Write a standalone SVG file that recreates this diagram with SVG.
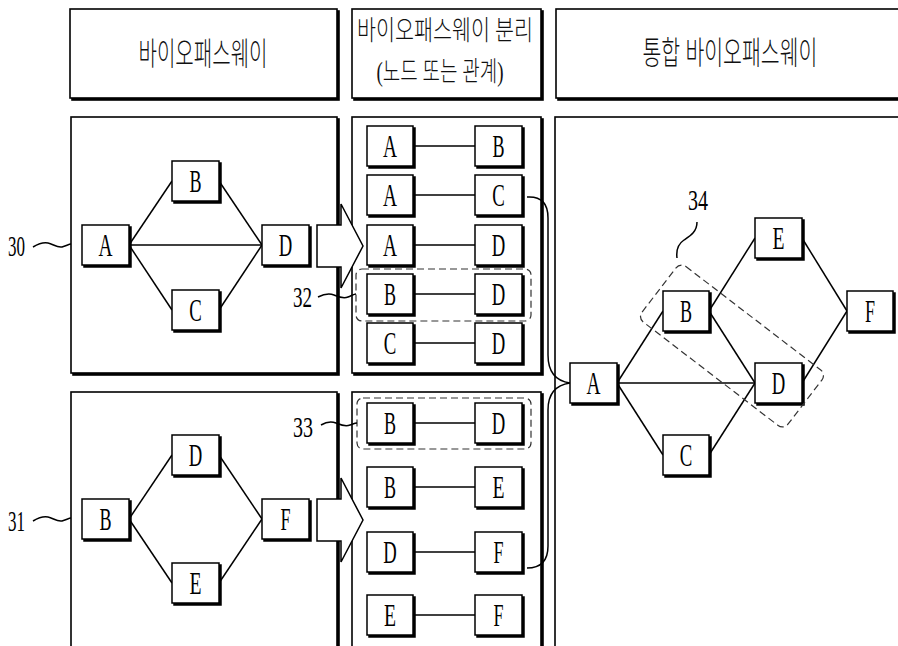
<svg xmlns="http://www.w3.org/2000/svg" width="898" height="646" viewBox="0 0 898 646">
  <defs>
    <!-- hard offset shadow that gives every box its heavy right/bottom edge -->
    <filter id="edge" x="-5%" y="-5%" width="115%" height="115%">
      <feOffset in="SourceAlpha" dx="2" dy="2" result="off"/>
      <feMerge>
        <feMergeNode in="off"/>
        <feMergeNode in="SourceGraphic"/>
      </feMerge>
    </filter>
    <style>
      .bx { fill:#fff; stroke:#000; stroke-width:1.5; filter:url(#edge); }
      .pn { fill:#fff; stroke:#000; stroke-width:1.6; filter:url(#edge); }
      .ln { fill:none; stroke:#000; stroke-width:1.5; }
      .arw { fill:#fff; stroke:#000; stroke-width:1.5; stroke-linejoin:miter; }
      .dash { fill:none; stroke:#333; stroke-width:1.2; stroke-dasharray:7 4; }
      .lt { font-family:"Liberation Serif", serif; font-size:32px; text-anchor:middle; fill:#000; }
      .num { font-family:"Liberation Serif", serif; font-size:30px; text-anchor:middle; fill:#000; }
      .ko { font-family:"Liberation Serif", "Noto Sans CJK KR", serif; font-weight:300; text-anchor:middle; dominant-baseline:central; fill:#111; }
    </style>
  </defs>

  <rect width="898" height="646" fill="#fff"/>

  <!-- column headers -->
  <g id="header-pathway">
    <rect class="pn" x="70" y="9" width="267" height="89"/>
    <text class="ko" x="203" y="54" font-size="32" textLength="129" lengthAdjust="spacingAndGlyphs">바이오패스웨이</text>
  </g>
  <g id="header-split">
    <rect class="pn" x="352" y="9" width="189" height="89"/>
    <text class="ko" x="445" y="31" font-size="27" textLength="176" lengthAdjust="spacingAndGlyphs">바이오패스웨이 분리</text>
    <text class="ko" x="440" y="72" font-size="27" textLength="127" lengthAdjust="spacingAndGlyphs">(노드 또는 관계)</text>
  </g>
  <g id="header-merged">
    <rect class="pn" x="556" y="9" width="360" height="89"/>
    <text class="ko" x="730" y="53" font-size="32" textLength="175" lengthAdjust="spacingAndGlyphs">통합 바이오패스웨이</text>
  </g>

  <!-- panels -->
  <g id="panels">
    <rect class="pn" x="71" y="117" width="266" height="256"/>
    <rect class="pn" x="71" y="392" width="266" height="270"/>
    <rect class="pn" x="352" y="117" width="189" height="256"/>
    <rect class="pn" x="352" y="392" width="189" height="270"/>
    <rect class="pn" x="555" y="117" width="360" height="545"/>
  </g>

  <!-- hollow block arrows from each pathway to its split list -->
  <g id="arrows">
    <polygon class="arw" points="317,225 341,225 341,204 363,246 341,288 341,267 317,267"/>
    <polygon class="arw" points="317,499 341,499 341,478 363,520 341,562 341,541 317,541"/>
  </g>

  <!-- connectors -->
  <g id="connectors">
    <!-- pathway 30 -->
    <line class="ln" x1="129" y1="245" x2="172" y2="181"/>
    <line class="ln" x1="129" y1="245" x2="262" y2="245"/>
    <line class="ln" x1="129" y1="245" x2="172" y2="310"/>
    <line class="ln" x1="219" y1="181" x2="262" y2="245"/>
    <line class="ln" x1="219" y1="310" x2="262" y2="245"/>
    <!-- pathway 31 -->
    <line class="ln" x1="129" y1="519" x2="172" y2="455"/>
    <line class="ln" x1="129" y1="519" x2="172" y2="583"/>
    <line class="ln" x1="219" y1="455" x2="262" y2="519"/>
    <line class="ln" x1="219" y1="583" x2="262" y2="519"/>
    <!-- split relations -->
    <line class="ln" x1="413" y1="146" x2="475" y2="146"/>
    <line class="ln" x1="413" y1="195" x2="475" y2="195"/>
    <line class="ln" x1="413" y1="245" x2="475" y2="245"/>
    <line class="ln" x1="413" y1="294" x2="475" y2="294"/>
    <line class="ln" x1="413" y1="343" x2="475" y2="343"/>
    <line class="ln" x1="413" y1="423" x2="475" y2="423"/>
    <line class="ln" x1="413" y1="487" x2="475" y2="487"/>
    <line class="ln" x1="413" y1="552" x2="475" y2="552"/>
    <line class="ln" x1="413" y1="615" x2="475" y2="615"/>
    <!-- brace joining the split lists into the merged pathway -->
    <path class="ln" d="M527,197 C542,196 548,204 548,218 V355 C548,372 556,381 570,383"/>
    <path class="ln" d="M527,568 C542,568 548,560 548,546 V410 C548,394 556,385 570,383"/>
    <!-- merged pathway -->
    <line class="ln" x1="617" y1="383" x2="663" y2="311"/>
    <line class="ln" x1="617" y1="383" x2="755" y2="383"/>
    <line class="ln" x1="617" y1="383" x2="663" y2="455"/>
    <line class="ln" x1="709" y1="311" x2="755" y2="238"/>
    <line class="ln" x1="709" y1="311" x2="755" y2="383"/>
    <line class="ln" x1="709" y1="455" x2="755" y2="383"/>
    <line class="ln" x1="802" y1="238" x2="847" y2="311"/>
    <line class="ln" x1="802" y1="383" x2="847" y2="311"/>
  </g>

  <!-- pathway 30 nodes -->
  <g id="p30-A"><rect class="bx" x="82" y="225" width="47" height="40"/><text class="lt" x="105.5" y="256" textLength="14" lengthAdjust="spacingAndGlyphs">A</text></g>
  <g id="p30-B"><rect class="bx" x="172" y="161" width="47" height="40"/><text class="lt" x="195.5" y="192" textLength="12" lengthAdjust="spacingAndGlyphs">B</text></g>
  <g id="p30-C"><rect class="bx" x="172" y="290" width="47" height="40"/><text class="lt" x="195.5" y="321" textLength="12.5" lengthAdjust="spacingAndGlyphs">C</text></g>
  <g id="p30-D"><rect class="bx" x="262" y="225" width="47" height="40"/><text class="lt" x="285.5" y="256" textLength="13.5" lengthAdjust="spacingAndGlyphs">D</text></g>

  <!-- pathway 31 nodes -->
  <g id="p31-B"><rect class="bx" x="82" y="499" width="47" height="40"/><text class="lt" x="105.5" y="530" textLength="12" lengthAdjust="spacingAndGlyphs">B</text></g>
  <g id="p31-D"><rect class="bx" x="172" y="435" width="47" height="40"/><text class="lt" x="195.5" y="466" textLength="13.5" lengthAdjust="spacingAndGlyphs">D</text></g>
  <g id="p31-E"><rect class="bx" x="172" y="563" width="47" height="40"/><text class="lt" x="195.5" y="594" textLength="12" lengthAdjust="spacingAndGlyphs">E</text></g>
  <g id="p31-F"><rect class="bx" x="262" y="499" width="47" height="40"/><text class="lt" x="285.5" y="530" textLength="10" lengthAdjust="spacingAndGlyphs">F</text></g>

  <!-- split relations from pathway 30 -->
  <g id="s1-A"><rect class="bx" x="367" y="126" width="46" height="40"/><text class="lt" x="390" y="157" textLength="14" lengthAdjust="spacingAndGlyphs">A</text></g>
  <g id="s1-B"><rect class="bx" x="475" y="126" width="47" height="40"/><text class="lt" x="498.5" y="157" textLength="12" lengthAdjust="spacingAndGlyphs">B</text></g>
  <g id="s2-A"><rect class="bx" x="367" y="175" width="46" height="40"/><text class="lt" x="390" y="206" textLength="14" lengthAdjust="spacingAndGlyphs">A</text></g>
  <g id="s2-C"><rect class="bx" x="475" y="175" width="47" height="40"/><text class="lt" x="498.5" y="206" textLength="12.5" lengthAdjust="spacingAndGlyphs">C</text></g>
  <g id="s3-A"><rect class="bx" x="367" y="225" width="46" height="40"/><text class="lt" x="390" y="256" textLength="14" lengthAdjust="spacingAndGlyphs">A</text></g>
  <g id="s3-D"><rect class="bx" x="475" y="225" width="47" height="40"/><text class="lt" x="498.5" y="256" textLength="13.5" lengthAdjust="spacingAndGlyphs">D</text></g>
  <g id="s4-B"><rect class="bx" x="367" y="274" width="46" height="40"/><text class="lt" x="390" y="305" textLength="12" lengthAdjust="spacingAndGlyphs">B</text></g>
  <g id="s4-D"><rect class="bx" x="475" y="274" width="47" height="40"/><text class="lt" x="498.5" y="305" textLength="13.5" lengthAdjust="spacingAndGlyphs">D</text></g>
  <g id="s5-C"><rect class="bx" x="367" y="323" width="46" height="40"/><text class="lt" x="390" y="354" textLength="12.5" lengthAdjust="spacingAndGlyphs">C</text></g>
  <g id="s5-D"><rect class="bx" x="475" y="323" width="47" height="40"/><text class="lt" x="498.5" y="354" textLength="13.5" lengthAdjust="spacingAndGlyphs">D</text></g>

  <!-- split relations from pathway 31 -->
  <g id="s6-B"><rect class="bx" x="367" y="403" width="46" height="40"/><text class="lt" x="390" y="434" textLength="12" lengthAdjust="spacingAndGlyphs">B</text></g>
  <g id="s6-D"><rect class="bx" x="475" y="403" width="47" height="40"/><text class="lt" x="498.5" y="434" textLength="13.5" lengthAdjust="spacingAndGlyphs">D</text></g>
  <g id="s7-B"><rect class="bx" x="367" y="467" width="46" height="40"/><text class="lt" x="390" y="498" textLength="12" lengthAdjust="spacingAndGlyphs">B</text></g>
  <g id="s7-E"><rect class="bx" x="475" y="467" width="47" height="40"/><text class="lt" x="498.5" y="498" textLength="12" lengthAdjust="spacingAndGlyphs">E</text></g>
  <g id="s8-D"><rect class="bx" x="367" y="532" width="46" height="40"/><text class="lt" x="390" y="563" textLength="13.5" lengthAdjust="spacingAndGlyphs">D</text></g>
  <g id="s8-F"><rect class="bx" x="475" y="532" width="47" height="40"/><text class="lt" x="498.5" y="563" textLength="10" lengthAdjust="spacingAndGlyphs">F</text></g>
  <g id="s9-E"><rect class="bx" x="367" y="595" width="46" height="40"/><text class="lt" x="390" y="626" textLength="12" lengthAdjust="spacingAndGlyphs">E</text></g>
  <g id="s9-F"><rect class="bx" x="475" y="595" width="47" height="40"/><text class="lt" x="498.5" y="626" textLength="10" lengthAdjust="spacingAndGlyphs">F</text></g>

  <!-- merged pathway nodes -->
  <g id="m-A"><rect class="bx" x="570" y="363" width="47" height="40"/><text class="lt" x="593.5" y="394" textLength="14" lengthAdjust="spacingAndGlyphs">A</text></g>
  <g id="m-B"><rect class="bx" x="663" y="291" width="46" height="40"/><text class="lt" x="686" y="322" textLength="12" lengthAdjust="spacingAndGlyphs">B</text></g>
  <g id="m-C"><rect class="bx" x="663" y="435" width="46" height="40"/><text class="lt" x="686" y="466" textLength="12.5" lengthAdjust="spacingAndGlyphs">C</text></g>
  <g id="m-D"><rect class="bx" x="755" y="363" width="47" height="40"/><text class="lt" x="778.5" y="394" textLength="13.5" lengthAdjust="spacingAndGlyphs">D</text></g>
  <g id="m-E"><rect class="bx" x="755" y="218" width="47" height="40"/><text class="lt" x="778.5" y="249" textLength="12" lengthAdjust="spacingAndGlyphs">E</text></g>
  <g id="m-F"><rect class="bx" x="847" y="291" width="46" height="40"/><text class="lt" x="870" y="322" textLength="10" lengthAdjust="spacingAndGlyphs">F</text></g>

  <!-- shared-relation highlights -->
  <g id="group-32"><rect class="dash" x="356" y="269" width="175" height="52" rx="6"/></g>
  <g id="group-33"><rect class="dash" x="357" y="398" width="174" height="51" rx="6"/></g>
  <g id="group-34"><rect class="dash" x="-92" y="-35" width="184" height="70" rx="7" transform="translate(732,346) rotate(37.5)"/></g>

  <!-- reference numerals and leaders -->
  <g id="labels">
    <text class="num" x="16.5" y="256" textLength="17" lengthAdjust="spacingAndGlyphs">30</text>
    <path class="ln" d="M33,247 C38,244 43,242 48,243 C53,244 57,248 62,247 C66,246 69,244 71,244"/>
    <text class="num" x="16.5" y="531" textLength="17" lengthAdjust="spacingAndGlyphs">31</text>
    <path class="ln" d="M33,521 C38,518 43,516 48,517 C53,518 57,522 62,521 C66,520 69,518 71,518"/>
    <text class="num" x="302.5" y="307" textLength="19" lengthAdjust="spacingAndGlyphs">32</text>
    <path class="ln" d="M318,297 C324,294 329,293 334,295 C339,297 343,299 348,297 C351,296 354,294 356,294"/>
    <text class="num" x="303" y="437" textLength="20" lengthAdjust="spacingAndGlyphs">33</text>
    <path class="ln" d="M321,425 C326,422 331,421 336,423 C341,425 345,427 350,425 C353,424 355,423 357,423"/>
    <text class="num" x="698" y="210" textLength="20" lengthAdjust="spacingAndGlyphs">34</text>
    <path class="ln" d="M697,222 C697,232 690,236 684,240 C678,244 676,250 677,258"/>
  </g>
</svg>
